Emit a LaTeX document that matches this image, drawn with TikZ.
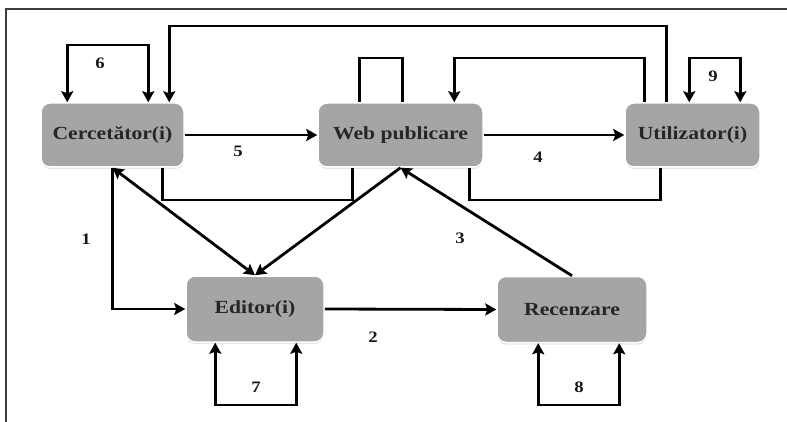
\documentclass[tikz,border=0pt]{standalone}
\usepackage{fontspec}
\setmainfont{Liberation Serif}
\newfontfamily\boxfont[FakeStretch=1.17]{Liberation Serif}
\usetikzlibrary{arrows.meta,shadows,calc}
\definecolor{boxgray}{RGB}{165,165,165}
\definecolor{framegray}{RGB}{60,60,60}
\begin{document}
\begin{tikzpicture}[x=1pt,y=-1pt,
  box/.style={rounded corners=9pt, fill=boxgray, draw=white, line width=1.5pt,
    drop shadow={shadow xshift=0pt,shadow yshift=-2pt,fill=black!20},
    font=\boxfont\bfseries\fontsize{18.5}{20}\selectfont, text=black!85, inner sep=0pt},
  conn/.style={line width=2.8pt, black},
  arr/.style={conn, -{Stealth[length=11pt,width=12pt,inset=2pt]}},
  barr/.style={conn, {Stealth[length=11pt,width=12pt,inset=2pt]}-{Stealth[length=11pt,width=12pt,inset=2pt]}},
  num/.style={font=\boxfont\bfseries\fontsize{16}{17}\selectfont, text=black!90},
  frame/.style={line width=1.3pt, framegray}]
\useasboundingbox (0,0) rectangle (787,422);
\coordinate (f1) at (787,9);
\coordinate (f2) at (6,9);
\coordinate (f3) at (6,422);
\draw[frame] (f1) -- (f2) -- (f3);

\node[box, minimum width=143pt, minimum height=64pt] (cer) at (112.5,135) {Cercetător(i)};
\node[box, minimum width=165pt, minimum height=64pt] (web) at (400.5,135) {Web publicare};
\node[box, minimum width=135pt, minimum height=64pt] (uti) at (692.5,135) {Utilizator(i)};
\node[box, minimum width=138pt, minimum height=66pt] (edi) at (255,309) {Editor(i)};
\node[box, minimum width=150pt, minimum height=66pt] (rec) at (572,309.5) {Recenzare};

\coordinate (L26) at (0,26);
\coordinate (L45) at (0,45);
\coordinate (L58) at (0,58);
\coordinate (L200) at (0,200);
\coordinate (L405) at (0,405);

\coordinate (c27) at ([xshift=27pt]cer.north west);
\coordinate (c108) at ([xshift=108pt]cer.north west);
\coordinate (c129) at ([xshift=129pt]cer.north west);
\coordinate (cb122) at ([xshift=122pt]cer.south west);
\coordinate (w42) at ([xshift=42pt]web.north west);
\coordinate (w85) at ([xshift=85pt]web.north west);
\coordinate (w137) at ([xshift=137pt]web.north west);
\coordinate (wb35) at ([xshift=35pt]web.south west);
\coordinate (wb152) at ([xshift=152pt]web.south west);
\coordinate (u20) at ([xshift=20pt]uti.north west);
\coordinate (u42) at ([xshift=42pt]uti.north west);
\coordinate (u65) at ([xshift=65pt]uti.north west);
\coordinate (u116) at ([xshift=116pt]uti.north west);
\coordinate (ub36) at ([xshift=36pt]uti.south west);
\coordinate (eb30) at ([xshift=30pt]edi.south west);
\coordinate (eb111) at ([xshift=111pt]edi.south west);
\coordinate (rb42) at ([xshift=42pt]rec.south west);
\coordinate (rb123) at ([xshift=123pt]rec.south west);

% loops on top
\draw[barr] (c27) -- (c27 |- L45) -- (c108 |- L45) -- (c108);
\draw[arr] (u42) -- (u42 |- L26) -- (c129 |- L26) -- (c129);
\draw[conn] (w42) -- (w42 |- L58) -- (w85 |- L58) -- (w85);
\draw[arr] (u20) -- (u20 |- L58) -- (w137 |- L58) -- (w137);
\draw[barr] (u65) -- (u65 |- L58) -- (u116 |- L58) -- (u116);

% horizontal arrows
\draw[arr] (cer.east) -- (web.west);
\draw[arr] (web.east) -- (uti.west);
\draw[arr] (edi.east) -- (rec.west);

% brackets below top row
\draw[conn] (cb122) -- (cb122 |- L200) -- (wb35 |- L200) -- (wb35);
\draw[conn] (wb152) -- (wb152 |- L200) -- (ub36 |- L200) -- (ub36);

% diagonals and route 1
\draw[arr] (cer.south) |- (edi.west);
\draw[barr] (cer.south) -- (edi.north);
\draw[arr] (web.south) -- (edi.north);
\draw[arr] (rec.north) -- (web.south);

% bottom loops
\draw[barr] (eb30) -- (eb30 |- L405) -- (eb111 |- L405) -- (eb111);
\draw[barr] (rb42) -- (rb42 |- L405) -- (rb123 |- L405) -- (rb123);

% labels
\node[num] (n6) at (100,63) {6};
\node[num] (n5) at (238,151) {5};
\node[num] (n4) at (538,157) {4};
\node[num] (n9) at (713,76) {9};
\node[num] (n1) at (86,239) {1};
\node[num] (n3) at (460,238) {3};
\node[num] (n2) at (373,337) {2};
\node[num] (n7) at (256,387) {7};
\node[num] (n8) at (579,387) {8};
\end{tikzpicture}
\end{document}
